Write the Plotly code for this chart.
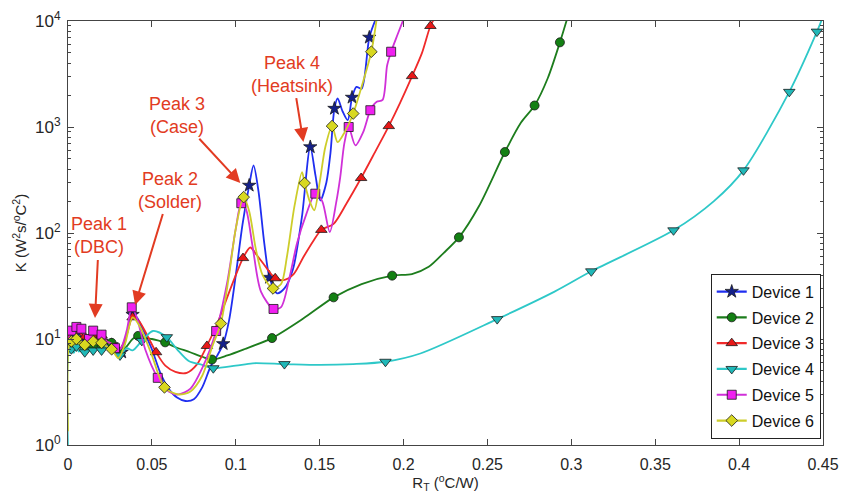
import math
import plotly.graph_objects as go

# Thermal resistance R_T (degC/W) and structure-function K (W^2 s / degC^2)
dev1_r = [0.0005, 0.002, 0.0035, 0.005, 0.0065, 0.008, 0.010, 0.0125, 0.015, 0.0175,
          0.020, 0.023, 0.026, 0.029, 0.032, 0.035, 0.0385, 0.041, 0.045, 0.050,
          0.055, 0.060, 0.065, 0.070, 0.075, 0.080, 0.085, 0.089, 0.0925, 0.096,
          0.100, 0.104, 0.108, 0.1106, 0.1135, 0.117, 0.1201, 0.1246, 0.129, 0.134,
          0.1394, 0.1444, 0.1475, 0.1504, 0.154, 0.1564, 0.1588, 0.1607, 0.1637, 0.1667,
          0.1693, 0.1719, 0.1750, 0.1796, 0.1835]
dev1_k = [9, 10.5, 9.5, 11, 9, 10, 8.5, 9.5, 10, 9,
          9.5, 8.5, 8.8, 8, 7.5, 11, 17, 16, 12, 8,
          4.8, 3.4, 2.8, 2.6, 2.7, 3.5, 5.5, 7, 9, 15,
          40, 120, 281, 435, 250, 80, 38, 27, 30, 45,
          141, 648, 350, 203, 300, 561, 1494, 1858, 1400, 1160,
          1900, 2390, 2300, 7000, 10500]
dev1_marks = [1, 3, 5, 7, 8, 10, 12, 14, 16, 28, 32, 36, 41, 46, 50, 53]

dev2_r = [0.0005, 0.002, 0.0035, 0.005, 0.0065, 0.008, 0.010, 0.0125, 0.015, 0.0175,
          0.020, 0.023, 0.026, 0.029, 0.031, 0.035, 0.0385, 0.0418, 0.046, 0.050,
          0.0545, 0.0579, 0.063, 0.0728, 0.080, 0.0858, 0.095, 0.105, 0.1216, 0.14,
          0.1583, 0.175, 0.1932, 0.205, 0.215, 0.224, 0.233, 0.245, 0.2604, 0.270,
          0.2781, 0.2860, 0.2932, 0.2975]
dev2_k = [8.5, 9, 8, 9.5, 8.2, 8.8, 8, 8.5, 8.6, 8,
          8.6, 9.5, 9.2, 8, 7.5, 8.5, 10, 10.7, 10.3, 10,
          9.6, 9.3, 8.5, 7.5, 6.8, 6.4, 7.0, 8.0, 10.2, 15.5,
          24.7, 33, 39.6, 41, 48, 65, 91, 180, 581, 1100,
          1595, 2900, 6290, 10500]
dev2_marks = [1, 3, 6, 8, 10, 12, 14, 17, 21, 25, 28, 30, 32, 36, 38, 40, 42]

dev3_r = [0.0005, 0.002, 0.0035, 0.005, 0.0065, 0.008, 0.010, 0.0125, 0.015, 0.0175,
          0.020, 0.023, 0.026, 0.028, 0.031, 0.035, 0.0385, 0.042, 0.047, 0.0525,
          0.058, 0.064, 0.0708, 0.077, 0.0828, 0.089, 0.095, 0.1, 0.1043, 0.1086,
          0.1125, 0.1166, 0.1235, 0.1285, 0.1345, 0.1405, 0.1464, 0.151, 0.1583, 0.1660,
          0.1747, 0.1830, 0.1912, 0.1980, 0.2051, 0.2110, 0.216, 0.219]
dev3_k = [10, 11.5, 12.5, 11, 12.5, 11, 10.5, 9.5, 11, 10,
          10.8, 9.5, 9, 8.3, 8, 11, 16, 15, 11, 7.5,
          5.6, 4.9, 4.8, 5.8, 8.6, 14, 25, 40, 58, 73,
          62, 51, 37.4, 36, 41, 60, 85, 107, 122, 190,
          330, 580, 1020, 1700, 3020, 5000, 8970, 11000]
dev3_marks = [0, 2, 4, 6, 8, 10, 13, 16, 19, 24, 28, 32, 37, 40, 42, 44, 46]

dev4_r = [0.0, 0.0005, 0.002, 0.0035, 0.005, 0.0065, 0.008, 0.010, 0.0125, 0.015,
          0.0175, 0.020, 0.023, 0.026, 0.029, 0.031, 0.035, 0.0385, 0.044, 0.0507,
          0.0589, 0.065, 0.072, 0.080, 0.0866, 0.1, 0.11, 0.129, 0.15, 0.17,
          0.1892, 0.21, 0.2558, 0.29, 0.3119, 0.3609, 0.385, 0.4026, 0.4299, 0.4464,
          0.45]
dev4_k = [0.9, 7.5, 8, 7.4, 8.5, 7.6, 8, 7.5, 8, 7.8,
          8.2, 7.8, 8.5, 8, 7.5, 7, 8.2, 7.8, 9.6, 11.9,
          10.4, 8, 6.2, 5.7, 5.3, 5.6, 5.9, 5.8, 5.7, 5.8,
          6.1, 7.3, 15.4, 28, 43.5, 106, 200, 390, 2146, 7940,
          11000]
dev4_marks = [2, 4, 7, 9, 11, 13, 15, 18, 20, 24, 27, 30, 32, 34, 35, 37, 38, 39]

dev5_r = [0.0005, 0.002, 0.0035, 0.005, 0.0065, 0.008, 0.010, 0.0125, 0.015, 0.0175,
          0.020, 0.023, 0.026, 0.028, 0.031, 0.035, 0.038, 0.041, 0.046, 0.0535,
          0.060, 0.066, 0.073, 0.080, 0.0883, 0.095, 0.1, 0.1033, 0.1060, 0.110,
          0.115, 0.1225, 0.127, 0.132, 0.1365, 0.1420, 0.1474, 0.1515, 0.156, 0.1600,
          0.1623, 0.1647, 0.1673, 0.1713, 0.1760, 0.1802, 0.1840, 0.1875, 0.1902, 0.1926,
          0.1965, 0.2001]
dev5_k = [10, 12, 11, 13, 11.5, 12.5, 11, 10, 12, 11.5,
          11, 9.5, 9, 8.2, 8, 12, 19.9, 16, 8, 4.3,
          3.2, 3.0, 3.4, 5.3, 11.9, 35, 110, 191, 170, 75,
          28, 19.2, 20, 38, 80, 150, 235, 200, 102, 200,
          340, 700, 1000, 670, 900, 1440, 1730, 1800, 3800, 5130,
          7500, 10500]
dev5_marks = [1, 3, 5, 7, 8, 10, 13, 16, 19, 24, 27, 31, 36, 42, 45, 49]

dev6_r = [0.0, 0.0005, 0.002, 0.0035, 0.005, 0.0065, 0.008, 0.010, 0.0125, 0.015,
          0.0175, 0.020, 0.023, 0.026, 0.030, 0.034, 0.0385, 0.043, 0.050, 0.0575,
          0.0657, 0.073, 0.080, 0.086, 0.0911, 0.096, 0.1, 0.1047, 0.108, 0.112,
          0.116, 0.1222, 0.127, 0.1305, 0.1350, 0.1395, 0.1410, 0.1440, 0.1468, 0.1500,
          0.1534, 0.1574, 0.1607, 0.1650, 0.1700, 0.1750, 0.1808, 0.1840]
dev6_k = [1.35, 8.5, 9.5, 8.8, 10, 9, 9.5, 8.8, 9.2, 9.5,
          9, 9.2, 8.5, 8, 6.6, 9, 16, 13, 7, 3.5,
          3.0, 3.2, 4.5, 8.5, 14, 40, 110, 218, 160, 70,
          40, 30, 33, 60, 180, 375, 296, 200, 164, 300,
          650, 1020, 720, 900, 1340, 2400, 5130, 10500]
dev6_marks = [2, 4, 7, 9, 11, 13, 19, 24, 27, 31, 36, 41, 44, 46]

device_names = ["Device 1", "Device 2", "Device 3", "Device 4", "Device 5", "Device 6"]
line_colors = ["#1f2ef0", "#1d7d1d", "#f02a2a", "#2ec8c8", "#d030d8", "#cdcd2a"]
marker_fill = ["#14208a", "#138013", "#e81818", "#20b8b8", "#f020f0", "#d8d820"]
marker_symbols = ["star", "circle", "triangle-up", "triangle-down", "square", "diamond"]
marker_sizes = [10, 9, 10, 10, 9, 9]

# Peak annotations: label, arrow-head position (R_T, K), label offset from the head in px
peak_labels = ["Peak 1<br>(DBC)", "Peak 2<br>(Solder)", "Peak 3<br>(Case)", "Peak 4<br>(Heatsink)"]
peak_heads_r = [0.0161, 0.0400, 0.1027, 0.1403]
peak_heads_k = [15.8, 20.9, 296, 721]
peak_label_dx = [4, 35, -63, -11]
peak_label_dy = [-82, -115, -68, -68]

series = [
    (dev1_r, dev1_k, dev1_marks),
    (dev2_r, dev2_k, dev2_marks),
    (dev3_r, dev3_k, dev3_marks),
    (dev4_r, dev4_k, dev4_marks),
    (dev5_r, dev5_k, dev5_marks),
    (dev6_r, dev6_k, dev6_marks),
]

fig = go.Figure()

for i, (r, k, marks) in enumerate(series):
    grp = device_names[i]
    fig.add_trace(go.Scatter(
        x=r, y=k, mode="lines",
        line=dict(color=line_colors[i], width=1.8, shape="spline", smoothing=0.8),
        legendgroup=grp, showlegend=False, hoverinfo="skip"))
    fig.add_trace(go.Scatter(
        x=[r[j] for j in marks], y=[k[j] for j in marks], mode="markers",
        marker=dict(symbol=marker_symbols[i], size=marker_sizes[i], color=marker_fill[i],
                    line=dict(color="#1a1a1a", width=0.8)),
        legendgroup=grp, showlegend=False))

# Legend entries (line with marker)
for i, name in enumerate(device_names):
    fig.add_trace(go.Scatter(
        x=[None], y=[None], mode="lines+markers", name=name, legendgroup=name,
        line=dict(color=line_colors[i], width=2.2),
        marker=dict(symbol=marker_symbols[i], size=marker_sizes[i], color=marker_fill[i],
                    line=dict(color="#1a1a1a", width=0.8))))

red = "#e23b22"
annotations = []
for i, lab in enumerate(peak_labels):
    annotations.append(dict(
        x=peak_heads_r[i], y=math.log10(peak_heads_k[i]), xref="x", yref="y",
        ax=peak_label_dx[i], ay=peak_label_dy[i],
        text=lab, showarrow=True, arrowhead=2, arrowsize=1.4, arrowwidth=2,
        arrowcolor=red, startstandoff=1,
        font=dict(color=red, size=18, family="Liberation Sans, Arial"), align="center"))

minor_vals = [m * 10 ** d for d in range(4) for m in range(2, 10)]

fig.update_layout(
    width=841, height=493,
    margin=dict(l=68, r=18, t=21, b=48),
    paper_bgcolor="white", plot_bgcolor="white",
    font=dict(family="Liberation Sans, Arial", size=15, color="#262626"),
    showlegend=True,
    legend=dict(x=0.997, y=0.015, xanchor="right", yanchor="bottom",
                bgcolor="white", bordercolor="#222222", borderwidth=1,
                font=dict(size=16, color="#111111"), tracegroupgap=2,
                itemwidth=30),
    annotations=annotations,
)

fig.update_xaxes(
    range=[0, 0.45], dtick=0.05, tick0=0, showgrid=False, zeroline=False,
    showline=True, linecolor="#444444", linewidth=1, mirror="allticks",
    ticks="inside", ticklen=6, tickcolor="#444444", ticklabelstandoff=5,
    tickfont=dict(size=16, color="#262626"), automargin=False,
    title=dict(text="R<sub>T</sub> (<sup>o</sup>C/W)", font=dict(size=15), standoff=6),
)
fig.update_yaxes(
    type="log", range=[0, 4], showgrid=False, zeroline=False,
    showline=True, linecolor="#444444", linewidth=1, mirror="allticks",
    ticks="inside", ticklen=6, tickcolor="#444444", ticklabelstandoff=3,
    tickvals=[1, 10, 100, 1000, 10000],
    ticktext=["10<sup>0</sup>", "10<sup>1</sup>", "10<sup>2</sup>", "10<sup>3</sup>", "10<sup>4</sup>"],
    tickfont=dict(size=17, color="#262626"), automargin=False,
    minor=dict(ticks="inside", ticklen=3, tickcolor="#444444", tickvals=minor_vals, showgrid=False),
    title=dict(text="K (W<sup>2</sup>s/<sup>o</sup>C<sup>2</sup>)", font=dict(size=15), standoff=4),
)

fig.write_html("out.html")
